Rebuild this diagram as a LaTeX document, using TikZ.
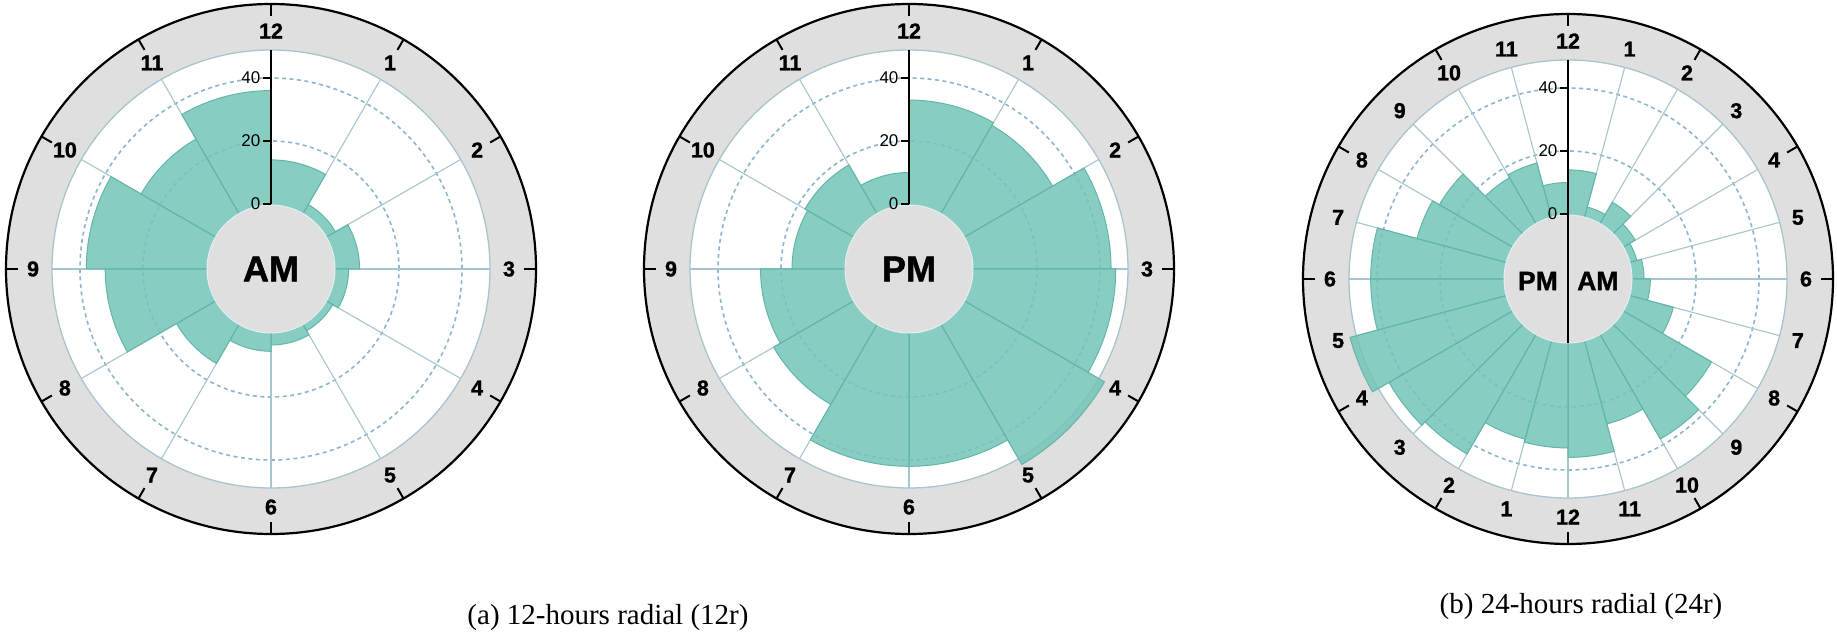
\documentclass[tikz,border=0pt]{standalone}
\usepackage{fontspec}
\setmainfont{Liberation Serif}
\newfontfamily\arialfont{Liberation Sans}
\newfontfamily\arialheavy[FakeBold=1.2]{Liberation Sans Bold}
\usetikzlibrary{calc}
\definecolor{ringgray}{RGB}{224,223,224}
\definecolor{gridblue}{RGB}{168,196,206}
\definecolor{dashblue}{RGB}{140,182,205}
\definecolor{tealfill}{RGB}{116,197,183}
\definecolor{tealline}{RGB}{98,182,167}
\tikzset{
 spokeline/.style={draw=gridblue, line width=1.1pt},
 gridcirc/.style={draw=dashblue, line width=1.6pt, dash pattern=on 4pt off 3.5pt},
 barwedge/.style={fill=tealfill, fill opacity=0.85, draw=tealline, line width=1pt},
 hourlab/.style={font=\arialheavy\fontsize{21.5}{21.5}\selectfont, inner sep=0pt},
 axlab/.style={font=\arialfont\fontsize{17}{17}\selectfont, anchor=east, inner sep=0pt},
 centerlab/.style={font=\arialheavy\fontsize{36}{36}\selectfont, inner sep=0pt},
 centerlabsmall/.style={font=\arialheavy\fontsize{26.5}{26.5}\selectfont, inner sep=0pt},
 caplab/.style={font=\fontsize{29}{29}\selectfont, inner sep=0pt},
 outerring/.style={draw=black, line width=2.2pt},
 ticklinestyle/.style={draw=black, line width=2pt},
 axisline/.style={draw=black, line width=1.6pt},
}
% #1 centre, #2 number of spokes
\newcommand\chartbase[2]{%
 \fill[ringgray] (#1) circle[radius=265];
 \fill[white] (#1) circle[radius=219];
 \draw[gridcirc] (#1) circle[radius=128];
 \draw[gridcirc] (#1) circle[radius=191];
 \pgfmathsetmacro\stepang{360/#2}
 \foreach \i in {1,...,#2} {\draw[spokeline] (#1) -- ++(90-\i*\stepang:219);}
 \draw[draw=gridblue, line width=1.3pt] (#1) circle[radius=219];
}
% #1 centre, #2 start angle, #3 step, #4 values
\newcommand\drawbars[4]{%
 \foreach \v [count=\k from 0] in {#4} {
   \pgfmathsetmacro\ra{#2-\k*#3}
   \pgfmathsetmacro\rb{#2-(\k+1)*#3}
   \pgfmathsetmacro\rr{65+3.15*\v}
   \filldraw[barwedge] (#1) -- ++(\ra:\rr) arc[start angle=\ra, end angle=\rb, radius=\rr] -- cycle;
 }
}
\newcommand\chartfront[1]{%
 \filldraw[fill=ringgray, draw=white!70!gridblue, line width=1pt] (#1) circle[radius=64];
 \draw[outerring] (#1) circle[radius=265];
 \foreach \a in {90,60,...,-240} {\draw[ticklinestyle] (#1) ++(\a:253) -- ++(\a:12);}
}
% #1 centre name
\newcommand\axisticks[1]{%
 \foreach \t/\r in {0/65,20/128,40/191} {
   \draw[draw=black, line width=1.2pt] ($(#1)+(0,\r)$) -- ++(-8,0) node[axlab, xshift=-2pt] (#1ax\t) {\t};
 }
}
\begin{document}
\begin{tikzpicture}[x=1pt,y=1pt]
\useasboundingbox (0,0) rectangle (1837,635);
\coordinate (c1) at (271,366);
\coordinate (c2) at (909,366);
\coordinate (c3) at (1568,356);

% ---- chart (a) AM
\chartbase{c1}{12}
\drawbars{c1}{90}{30}{14,3,7.5,4,2,3.5,5.5,14,32,38,27,36}
\chartfront{c1}
\draw[axisline] ($(c1)+(0,65)$) -- ($(c1)+(0,219)$);
\axisticks{c1}
\node[centerlab] (c1mid) at (c1) {AM};
\foreach \h [count=\i from 0] in {12,1,2,3,4,5,6,7,8,9,10,11}
  {\node[hourlab] (c1h\i) at ($(c1)+(90-30*\i:238)$) {\h};}

% ---- chart (a) PM
\chartbase{c2}{12}
\drawbars{c2}{90}{30}{33,32,43.5,45,51,42,42,29,26.5,16.5,17.5,10}
\chartfront{c2}
\draw[axisline] ($(c2)+(0,65)$) -- ($(c2)+(0,219)$);
\axisticks{c2}
\node[centerlab] (c2mid) at (c2) {PM};
\foreach \h [count=\i from 0] in {12,1,2,3,4,5,6,7,8,9,10,11}
  {\node[hourlab] (c2h\i) at ($(c2)+(90-30*\i:238)$) {\h};}

% ---- chart (b) 24 hours
\chartbase{c3}{24}
\drawbars{c3}{90}{15}{14,3,7.5,4,2,3.5,5.5,14,32,38,27,36}
\drawbars{c3}{-90}{15}{33,32,43.5,45,51,42,42,29,26.5,16.5,17.5,10}
\chartfront{c3}
\draw[axisline] ($(c3)+(0,-64)$) -- ($(c3)+(0,219)$);
\axisticks{c3}
\node[centerlabsmall, anchor=east] (c3pm) at ($(c3)+(-10,-2)$) {PM};
\node[centerlabsmall, anchor=west] (c3am) at ($(c3)+(9,-2)$) {AM};
\foreach \h [count=\i from 0] in {12,1,2,3,4,5,6,7,8,9,10,11}
  {\node[hourlab] (c3a\i) at ($(c3)+(90-15*\i:238)$) {\h};
   \node[hourlab] (c3p\i) at ($(c3)+(-90-15*\i:238)$) {\h};}

% ---- captions
\node[caplab] (capa) at (608,17) {(a) 12-hours radial (12r)};
\node[caplab] (capb) at (1581,28) {(b) 24-hours radial (24r)};
\end{tikzpicture}
\end{document}
